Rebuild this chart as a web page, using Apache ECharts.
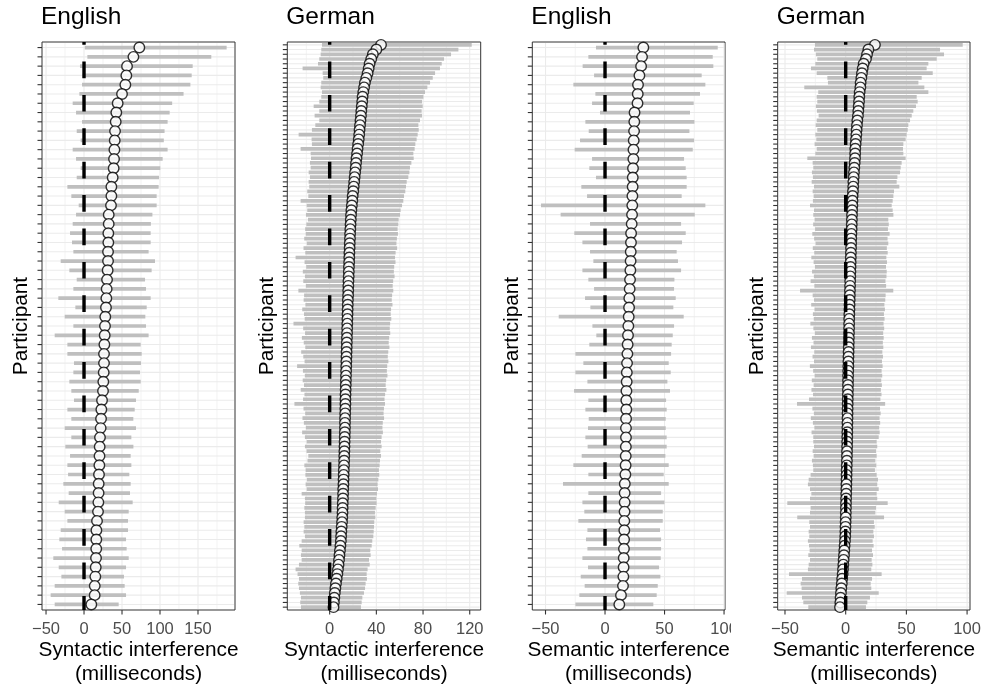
<!DOCTYPE html>
<html lang="en">
  <head>
    <meta charset="UTF-8" />
    <title>Participant interference</title>
    <script src="https://cdn.jsdelivr.net/npm/echarts@6/dist/echarts.min.js"></script>
    <style>
      html, body { margin: 0; padding: 0; background: #fff; }
      #chart { width: 984px; height: 687px; }
    </style>
  </head>
  <body>
    <div id="chart"></div>
    <script>
      // English, syntactic interference (61 participants, sorted by estimate)
      const enSynMean = [72.8, 65, 56.6, 55.7, 54.4, 50, 44.3, 42.5, 41.7, 40.8,
        40.4, 40, 39.5, 39, 37.7, 36, 36, 35.5, 32.5, 32.5,
        32, 32, 31.6, 31.6, 31.1, 30.3, 29.8, 29.4, 28.9, 28,
        27.6, 27.2, 26.8, 26.3, 26.3, 25.9, 25.4, 25, 23.7, 22.8,
        22.4, 21.9, 21, 20.6, 20.4, 20.2, 19.7, 19.3, 19.2, 18.9,
        18.4, 17.1, 16.3, 16.2, 16.1, 15.8, 15.4, 14.9, 14.1, 14, 9.6];
      const enSynLo = [1, 4.4, -5.3, -1.8, -2.6, -6.1, -14.9, -10.5, -2.6, -9.6,
        -4.4, -14.9, -10.5, -4.4, -9.6, -21.9, -16.7, -7, -10.5, -14.9,
        -18.4, -15.8, -14, -30.7, -19.3, -9.6, -14, -33.8, -11.4, -25.4,
        -14, -38.6, -21.9, -21.9, -13.2, -14, -19.3, -16.7, -13.2, -21.9,
        -16.7, -25.4, -16.7, -24.6, -18.4, -21.9, -21, -27.2, -20.2, -33.3,
        -25.4, -21.9, -30.7, -32.5, -28.9, -40.4, -33.3, -29.8, -38.6, -43.9, -38.6];
      const enSynHi = [187.7, 167.5, 143, 141.7, 140, 131, 116, 112.7, 110, 106,
        105, 110, 103.5, 100.4, 98.7, 98.2, 95.6, 95.6, 90, 88,
        87.7, 87.7, 85, 93.4, 89, 80.3, 81.6, 87.7, 82.5, 80.7,
        81.6, 85, 74.6, 75.9, 75, 73.7, 74.6, 72, 68.4, 66.7,
        64.9, 68.4, 62.3, 65, 61.4, 62.3, 59.6, 61.4, 60.5, 64,
        58.8, 57.9, 57.9, 55.3, 56.1, 58.8, 55.3, 52.6, 53.5, 55.3, 45.6];

      // German, syntactic interference (120 participants)
      const deSynMean = [44, 40, 37, 35.6, 34.2, 33.4, 32.5, 31.4, 30.2, 29.5,
        28.8, 28.2, 27.9, 27.5, 27.1, 26.8, 26.4, 26, 25.6, 25.3,
        24.9, 24.4, 23.9, 23.5, 23, 22.6, 22.3, 21.8, 21.4, 21,
        20.6, 20.2, 19.7, 19.4, 19, 18.6, 18.3, 18.1, 17.9, 17.7,
        17.5, 17.4, 17.2, 17.1, 16.9, 16.8, 16.7, 16.5, 16.4, 16.3,
        16.1, 16, 15.9, 15.8, 15.6, 15.5, 15.4, 15.3, 15.2, 15.1,
        15, 14.9, 14.8, 14.7, 14.6, 14.5, 14.4, 14.3, 14.2, 14.1,
        14, 13.9, 13.8, 13.7, 13.6, 13.5, 13.5, 13.4, 13.3, 13.2,
        13.1, 13.1, 13, 12.9, 12.8, 12.7, 12.6, 12.5, 12.4, 12.3,
        12.1, 12, 11.9, 11.8, 11.6, 11.5, 11.4, 11.2, 11.1, 11,
        10.8, 10.6, 10.3, 10, 9.8, 9.6, 9.2, 8.8, 8.4, 8,
        7.6, 7.1, 6.6, 6, 5.4, 4.9, 4.4, 4, 3.6, 3.3];
      const deSynLo = [-6.6, -7.2, -7.7, -8.9, -10, -23.2, -6, -5.5, -7.2, -7.7,
        -6.6, -7.2, -8.9, -13.7, -8.9, -12.9, -8.9, -12.3, -15.2, -26.6,
        -15.5, -15.2, -24.9, -16.3, -16, -16.9, -16.3, -18, -16.9, -18,
        -17.5, -19.2, -18.3, -24.9, -19.7, -19.2, -20.3, -18.6, -20, -21,
        -20.5, -21.8, -19.6, -22.4, -20.9, -29.2, -21.5, -20.1, -23, -21.2,
        -22.6, -20.4, -26.8, -21.9, -22.3, -20.8, -23.5, -22, -21.4, -31,
        -22.7, -21.1, -23.8, -22.2, -20.9, -24.4, -22.6, -21.5, -27.9, -22.9,
        -21.3, -23.1, -22, -24.8, -21.6, -22.8, -30.2, -22.4, -21, -23.3,
        -22.1, -20.4, -23.6, -21.2, -19.7, -21.2, -19.8, -18.3, -19, -21.7,
        -20.6, -20.8, -19.5, -20.6, -19.7, -24, -21.2, -21, -21.7, -21.2,
        -21.2, -22.3, -21.7, -22.3, -21.2, -24, -26, -24, -24.6, -24,
        -26.3, -29.2, -27.5, -26.3, -26.9, -26.3, -25.5, -24.6, -25.2, -24.6];
      const deSynHi = [121.7, 110.3, 104, 98, 96, 94.5, 90.3, 88.3, 86, 83.7,
        81.7, 80.3, 79.1, 79.7, 78.8, 79.1, 77.4, 76, 76.3, 75.4,
        74.5, 73.4, 72.8, 71.7, 72, 70, 68.8, 68.3, 67.4, 66,
        65.4, 64.8, 63.7, 63.1, 62, 60.8, 60.3, 59.1, 58.8, 58.2,
        58.5, 57.6, 57.2, 57.8, 56.5, 56, 56.4, 55.3, 55, 55.6,
        54.4, 54, 54.5, 53.5, 53.2, 53.8, 52.6, 52.3, 52.8, 51.8,
        51.5, 51.9, 51, 50.6, 51.2, 50.2, 49.8, 50.3, 49.3, 49,
        49.5, 48.4, 48, 48.6, 47.5, 47, 47.4, 46.5, 46.2, 46.6,
        45.5, 45.2, 45.6, 44.5, 44, 44.5, 43.4, 44, 43.1, 42.8,
        42.2, 42.5, 41.7, 41.1, 41.4, 40.5, 40, 40.2, 39.4, 38.8,
        39.1, 38.2, 38, 37.7, 37.4, 36.5, 36, 34.8, 35.1, 33.7,
        34.3, 32.5, 31.7, 31.9, 30.8, 30.3, 29.4, 28, 27.4, 26.8];

      // English, semantic interference (61 participants)
      const enSemMean = [32.2, 31.1, 30.3, 28.9, 27.7, 27.5, 27.3, 24.8, 24.6, 24.4,
        24.1, 23.9, 23.8, 23.5, 23.3, 23.2, 23, 22.9, 22.7, 22.4,
        21.9, 21.8, 21.6, 21.5, 21.3, 21, 20.7, 20.4, 20.2, 19.9,
        19.6, 19.3, 19, 18.8, 18.5, 18.3, 18.2, 18, 17.9, 17.9,
        17.7, 17.6, 17.6, 17.5, 17.4, 17.3, 17.1, 16.6, 16.5, 16.5,
        16.4, 16.2, 16.2, 16, 15.9, 15.7, 15.6, 15.4, 15.1, 13.4, 12];
      const enSemLo = [-7.6, -14, -18.8, -9.2, -26.6, -8.1, -10.9, -4.2, -16.5, -13.7,
        -21, -25.5, -10.9, -13.2, -7.6, -19.9, -15.1, -53.8, -37.3, -12.6,
        -25.8, -19, -12.6, -9.8, -19, -14, -9.2, -16.8, -12.3, -38.9,
        -10.6, -7.3, -13.2, -24.9, -18.2, -24.9, -14.8, -26, -14, -16.5,
        -13.7, -14.3, -16.5, -14.6, -19.6, -26.6, -14, -35.3, -14, -19,
        -17.4, -22.4, -14.8, -16, -14.8, -19, -14.3, -20.4, -17.1, -21.6, -24.9];
      const enSemHi = [94.7, 90.5, 91, 81.2, 84.3, 79.8, 74.5, 71.4, 75.1, 70.9,
        74.8, 73.7, 66.4, 67.8, 68.6, 68.6, 64.4, 84.3, 75.4, 63.9,
        67.8, 64.7, 60.2, 61.3, 63.9, 58.3, 58, 59.4, 57.4, 66.1,
        58, 56.9, 56, 55.5, 53.5, 55.2, 52.4, 54.6, 51.3, 51.8,
        51, 51, 51.8, 51.8, 50.7, 53.5, 49.3, 53.5, 47.1, 49.9,
        48.5, 48.5, 46.2, 47.1, 47.1, 46.8, 45.4, 46.5, 44.3, 43.4, 40.6];

      // German, semantic interference (120 participants)
      const deSemMean = [24.1, 18.7, 17.6, 16.7, 14.8, 14, 13.4, 12.9, 12.3, 12.1,
        11.5, 11.2, 11, 10.7, 10.4, 10.1, 9.6, 9.3, 9, 8.8,
        8.5, 8.2, 7.9, 7.8, 7.7, 7.4, 7.1, 6.8, 6.6, 6.3,
        6.2, 6, 5.7, 5.6, 5.5, 5.3, 5.2, 5.1, 5, 4.9,
        4.7, 4.6, 4.5, 4.4, 4.3, 4.2, 4.1, 4, 3.9, 3.8,
        3.7, 3.6, 3.5, 3.4, 3.3, 3.2, 3.1, 3, 2.9, 2.85,
        2.8, 2.7, 2.6, 2.55, 2.5, 2.4, 2.3, 2.25, 2.2, 2.1,
        2, 1.95, 1.9, 1.85, 1.8, 1.7, 1.65, 1.6, 1.55, 1.5,
        1.45, 1.4, 1.35, 1.3, 1.25, 1.2, 1.1, 1.05, 1, 0.9,
        0.8, 0.75, 0.7, 0.6, 0.55, 0.45, 0.35, 0.25, 0.2, 0.1,
        0.05, -0.05, -0.15, -0.25, -0.35, -0.6, -0.9, -1.15, -1.4, -1.7,
        -1.95, -2.2, -2.5, -2.9, -3.2, -3.6, -3.9, -4.2, -4.4, -4.7];
      const deSemLo = [-25.3, -26.1, -24.5, -23.4, -25, -28.6, -23.9, -15.1, -14.6, -34.1,
        -22.6, -23.9, -23.4, -24.5, -23.7, -22.3, -23.9, -24.7, -23.4, -25,
        -24.2, -25.6, -23.9, -25, -31.6, -27.2, -26.7, -27.8, -27, -28,
        -26.1, -27.2, -26.4, -27, -29.4, -26.1, -26.7, -25.6, -26.8, -25.2,
        -27.5, -26, -24.8, -27.1, -25.9, -28.3, -26.4, -25.3, -27.7, -26.2,
        -28.9, -25.8, -37.6, -27.2, -26.1, -28.4, -25.7, -27, -26.3, -29.1,
        -26.6, -25.4, -27.8, -26.5, -28.6, -25.9, -27.3, -26.1, -29.5, -26.8,
        -25.6, -27.9, -26.4, -28.2, -26.9, -30.2, -40.1, -27.4, -26.2, -28.7,
        -27, -25.8, -28.1, -26.7, -26.7, -26.1, -27.2, -26.4, -27.8, -27,
        -26.7, -28.9, -30.5, -31.1, -29.4, -28.3, -29.4, -48.1, -28.9, -29.4,
        -39.9, -30, -29.4, -30.5, -30, -31.1, -30.2, -29.7, -30.8, -29.4,
        -30.5, -31.1, -46.7, -36, -37.1, -36.3, -48.6, -36, -34.9, -30.8];
      const deSemHi = [96.4, 77.7, 81, 75, 68.1, 66.7, 71.7, 62.6, 59.9, 64.8,
        68.1, 58.5, 59.3, 57.9, 55.7, 54.4, 53, 51.6, 51.1, 50.2,
        49.4, 47.5, 47.2, 47.5, 49.4, 46.1, 45.3, 44.8, 42.6, 42,
        44.2, 39.8, 39.3, 38.7, 37.9, 38.7, 39.3, 35.1, 35.5, 34.8,
        36.2, 34.5, 35.1, 33.9, 34.6, 33.5, 34, 33.2, 33.8, 33.6,
        32.8, 33.3, 39.2, 32.9, 32.6, 31.9, 32.3, 31.5, 32, 31.2,
        31.7, 30.9, 31.3, 30.6, 31, 30.2, 30.7, 29.9, 30.4, 29.6,
        30.1, 29.3, 29.8, 29, 29.5, 28.6, 32.5, 28.3, 28.8, 27.9,
        28.4, 27.6, 28, 27.2, 25.5, 26, 25, 25.5, 24.4, 25.2,
        24.1, 25.5, 26.6, 26, 27.2, 25.5, 26, 34.6, 25, 24.4,
        31.6, 23.3, 23.9, 22.8, 23.3, 22.2, 23, 21.7, 22.5, 21.4,
        22, 21.1, 29.6, 21.7, 20.6, 21.1, 27.2, 20, 17.8, 16.7];

      // tick labels and minor grid positions
      const enSynTicks = [-50, 0, 50, 100, 150];
      const enSynMinor = [-25, 25, 75, 125, 175];
      const deSynTicks = [0, 40, 80, 120];
      const deSynMinor = [-20, 20, 60, 100];
      const semTicks = [-50, 0, 50, 100];
      const semMinor = [-25, 25, 75];

      const titles = ['English', 'German', 'English', 'German'];
      const xNames = [
        'Syntactic interference\n(milliseconds)',
        'Syntactic interference\n(milliseconds)',
        'Semantic interference\n(milliseconds)',
        'Semantic interference\n(milliseconds)'
      ];

      const panels = [
        { mean: enSynMean, lo: enSynLo, hi: enSynHi, ticks: enSynTicks, minor: enSynMinor, min: -55.3, max: 198.7, left: 42, width: 193 },
        { mean: deSynMean, lo: deSynLo, hi: deSynHi, ticks: deSynTicks, minor: deSynMinor, min: -36.3, max: 129.4, left: 287.3, width: 193.4 },
        { mean: enSemMean, lo: enSemLo, hi: enSemHi, ticks: semTicks, minor: semMinor, min: -61.1, max: 100.8, left: 532.3, width: 192.7 },
        { mean: deSemMean, lo: deSemLo, hi: deSemHi, ticks: semTicks, minor: semMinor, min: -56, max: 102.4, left: 777.7, width: 192.3 }
      ];

      const FONT = 'Liberation Sans, Arial, Helvetica, sans-serif';
      const TOP = 42;
      const HEIGHT = 568;
      const TICK = 4.5;

      let myCharts = echarts.init(document.getElementById('chart'), null, { renderer: 'canvas' });

      let grid = [];
      let xAxis = [];
      let yAxis = [];
      let title = [];
      let series = [];

      panels.forEach(function (p, k) {
        let rows = p.mean.map(function (m, i) { return i; });
        let n = rows.length;

        // fixed panel box; no automatic shrinking to fit the labels
        grid.push({
          left: p.left, top: TOP, width: p.width, height: HEIGHT,
          outerBoundsMode: 'none', containLabel: false,
          show: true, borderColor: '#333333', borderWidth: 1, backgroundColor: '#ffffff'
        });

        title.push({
          text: titles[k], left: p.left - 1, top: 5, padding: 0,
          textStyle: { fontSize: 24.5, fontWeight: 'normal', color: '#000000', fontFamily: FONT }
        });

        xAxis.push({
          gridIndex: k, type: 'value', min: p.min, max: p.max,
          axisLine: { show: false },
          splitLine: { show: false },
          axisTick: { show: false },
          axisLabel: {
            show: true, customValues: p.ticks, margin: 10.5, fontSize: 16.5, color: '#4d4d4d', fontFamily: FONT,
            formatter: function (v) { return v < 0 ? '\u2212' + Math.abs(v) : String(v); }
          },
          name: xNames[k], nameLocation: 'middle', nameGap: 28, nameMoveOverlap: false,
          nameTextStyle: { fontSize: 20.8, color: '#000000', lineHeight: 24, fontFamily: FONT }
        });

        yAxis.push({
          gridIndex: k, type: 'value', min: -0.6, max: n - 0.4, inverse: true,
          axisLine: { show: false },
          splitLine: { show: false },
          axisTick: { show: false },
          axisLabel: { show: false },
          name: 'Participant', nameLocation: 'middle', nameGap: 10, nameRotate: 90,
          nameTextStyle: { fontSize: 20.8, color: '#000000', fontFamily: FONT }
        });

        // horizontal grid lines and y ticks, one per participant
        series.push({
          type: 'custom', xAxisIndex: k, yAxisIndex: k, silent: true, z: 1, clip: false,
          data: rows.map(function (i) { return [0, i]; }),
          renderItem: function (params, api) {
            let cs = params.coordSys;
            let y = api.coord([0, api.value(1)])[1];
            return {
              type: 'group',
              children: [
                {
                  type: 'line',
                  shape: { x1: cs.x + 1, y1: y, x2: cs.x + cs.width - 1, y2: y },
                  style: { stroke: '#ebebeb', lineWidth: 1.1 }
                },
                {
                  type: 'line',
                  shape: { x1: cs.x - TICK, y1: y, x2: cs.x, y2: y },
                  style: { stroke: '#333333', lineWidth: 1.1 }
                }
              ]
            };
          }
        });

        // vertical grid lines (major + minor) and x ticks
        let vlines = p.ticks.map(function (v) { return [v, 1]; })
          .concat(p.minor.map(function (v) { return [v, 0]; }));
        series.push({
          type: 'custom', xAxisIndex: k, yAxisIndex: k, silent: true, z: 1, clip: false,
          data: vlines,
          renderItem: function (params, api) {
            let cs = params.coordSys;
            let x = api.coord([api.value(0), 0])[0];
            let major = api.value(1) === 1;
            let children = [{
              type: 'line',
              shape: { x1: x, y1: cs.y + 1, x2: x, y2: cs.y + cs.height - 1 },
              style: { stroke: '#ebebeb', lineWidth: major ? 1.1 : 0.6 }
            }];
            if (major) {
              children.push({
                type: 'line',
                shape: { x1: x, y1: cs.y + cs.height, x2: x, y2: cs.y + cs.height + TICK },
                style: { stroke: '#333333', lineWidth: 1.1 }
              });
            }
            return { type: 'group', children: children };
          }
        });

        // credible intervals
        series.push({
          type: 'custom', xAxisIndex: k, yAxisIndex: k, silent: true, z: 2,
          encode: { x: [1, 2], y: 0 },
          data: rows.map(function (i) { return [i, p.lo[i], p.hi[i]]; }),
          renderItem: function (params, api) {
            let a = api.coord([api.value(1), api.value(0)]);
            let b = api.coord([api.value(2), api.value(0)]);
            return {
              type: 'rect',
              shape: { x: a[0], y: a[1] - 1.85, width: b[0] - a[0], height: 3.7 },
              style: { fill: '#bfbfbf' }
            };
          }
        });

        // estimates
        series.push({
          type: 'scatter', xAxisIndex: k, yAxisIndex: k, silent: true, z: 3,
          symbol: 'circle', symbolSize: 10.5,
          itemStyle: { color: '#ffffff', borderColor: '#000000', borderWidth: 1.4 },
          data: p.mean.map(function (m, i) { return [m, i]; })
        });

        // dashed zero line, dash pattern starting just below the panel
        series.push({
          type: 'custom', xAxisIndex: k, yAxisIndex: k, silent: true, z: 5,
          data: [[0, 0]],
          renderItem: function (params, api) {
            let cs = params.coordSys;
            let x = api.coord([api.value(0), 0])[0];
            return {
              type: 'line',
              shape: { x1: x, y1: cs.y + cs.height, x2: x, y2: cs.y },
              style: { stroke: '#000000', lineWidth: 3.4, lineDash: [16.7, 16.7], lineDashOffset: 2.6, lineCap: 'butt' }
            };
          }
        });
      });

      let option = {
        animation: false,
        backgroundColor: '#ffffff',
        textStyle: { fontFamily: FONT },
        title: title,
        grid: grid,
        xAxis: xAxis,
        yAxis: yAxis,
        series: series,
        graphic: [
          // the next plot covers the end of the last tick label, as in the original figure
          { type: 'rect', z: 100, shape: { x: 731, y: 614, width: 14, height: 30 }, style: { fill: '#ffffff' } }
        ]
      };

      myCharts.setOption(option);
    </script>
  </body>
</html>
